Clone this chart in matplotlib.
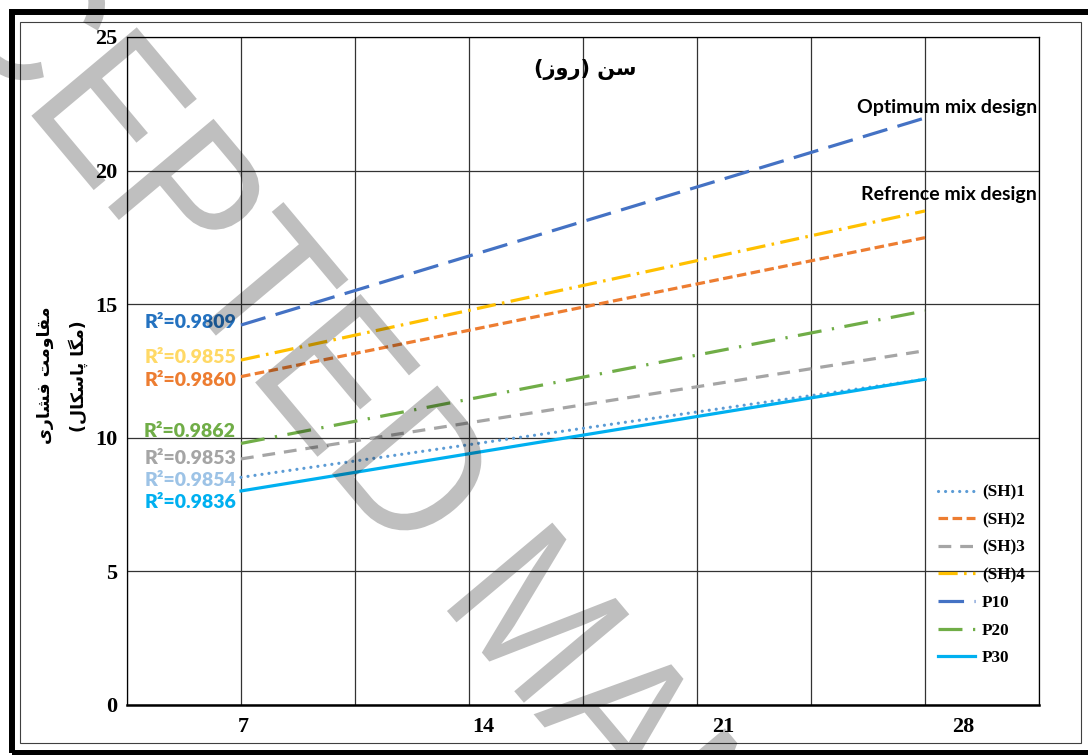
import matplotlib
matplotlib.use("Agg")
import matplotlib.pyplot as plt
from matplotlib.patches import Rectangle, PathPatch
from matplotlib.textpath import TextPath
from matplotlib.font_manager import FontProperties
from matplotlib.transforms import Affine2D

# data (linear trendlines, 7 -> 28 days)
days = [7, 28]
series_names = ["(SH)1", "(SH)2", "(SH)3", "(SH)4", "P10", "P20", "P30"]
start_vals = [8.52, 12.29, 9.21, 12.91, 14.22, 9.79, 8.01]
end_vals = [12.19, 17.49, 13.26, 18.49, 21.97, 14.75, 12.19]
r2_vals = [0.9854, 0.9860, 0.9853, 0.9855, 0.9809, 0.9862, 0.9836]
x_labels = [7, 14, 21, 28]
y_ticks = [0, 5, 10, 15, 20, 25]

colors = ["#5B9BD5", "#ED7D31", "#A5A5A5", "#FFC000", "#4472C4", "#70AD47", "#00B0F0"]
dash_styles = [(0.01, 2.2), (3.0, 1.4), (4.0, 2.8), (6.0, 2.0, 0.8, 2.0),
               (8.0, 3.3), (7.5, 3.3, 0.7, 3.3), None]
r2_colors = ["#9DC3E6", "#ED7D31", "#A5A5A5", "#FFD966", "#2472C0", "#70AD47", "#00B0F0"]
r2_label_y = [8.42, 12.16, 9.21, 12.99, 14.33, 10.22, 7.56]

title_fa = "(\u0632\u0648\u0631) \uFEE6\uFEB3"
ylab_line1 = "\u06CC\u0631\uFE8E\uFEB8\uFED3 \uFE96\uFEE3\u0648\uFE8E\uFED8\uFEE3"
ylab_line2 = "(\u0644\uFE8E\uFB91\uFEB3\uFE8E\uFB58 \uFE8E\uFB95\uFEE3)"

W, H = 1088, 755
fig = plt.figure(figsize=(W / 100, H / 100), dpi=100)
fig.patch.set_facecolor("white")
ax = fig.add_axes([127 / W, 1 - 705 / H, (1039 - 127) / W, (705 - 37) / H])

for i, name in enumerate(series_names):
    kw = dict(color=colors[i], lw=2.3, label=name, zorder=3)
    if dash_styles[i] is not None:
        kw["dashes"] = dash_styles[i]
    if i == 0:
        kw["dash_capstyle"] = "round"
    ax.plot(days, [start_vals[i], end_vals[i]], **kw)

for i, r2 in enumerate(r2_vals):
    ax.text(6.85, r2_label_y[i], "R\u00b2=%.4f" % r2, ha="right", va="center",
            color=r2_colors[i], fontsize=14, fontweight="heavy", family="Lato", zorder=4)

ax.text(31.44, 22.38, "Optimum mix design", ha="right", va="center",
        fontsize=14, fontweight="bold", family="Lato")
ax.text(31.44, 19.09, "Refrence mix design", ha="right", va="center",
        fontsize=14, fontweight="bold", family="Lato")

ax.set_xlim(3.5, 31.5)
ax.set_ylim(0, 25)
ax.set_xticks([3.5 * k for k in range(1, 10)])
ax.set_yticks(y_ticks)
ax.tick_params(axis="x", length=0, labelbottom=False)
ax.tick_params(axis="y", length=0, pad=7)
for lab in ax.get_yticklabels():
    lab.set_fontfamily("Liberation Serif")
    lab.set_fontweight("bold")
    lab.set_fontsize(16)
ax.grid(True, color="#333333", lw=0.9, zorder=1)
ax.set_axisbelow(True)
for s in ax.spines.values():
    s.set_color("black")
    s.set_linewidth(0.9)
ax.spines["bottom"].set_linewidth(1.8)

# category labels under the axis
ax2 = ax.twiny()
ax2.set_xlim(3.62, 30.21)
ax2.set_xticks(x_labels)
ax2.xaxis.set_ticks_position("bottom")
ax2.xaxis.set_label_position("bottom")
ax2.tick_params(axis="x", length=0, pad=9)
for lab in ax2.get_xticklabels():
    lab.set_fontfamily("Liberation Serif")
    lab.set_fontweight("bold")
    lab.set_fontsize(16)
for s in ax2.spines.values():
    s.set_visible(False)

ax.legend(loc="upper left", bbox_to_anchor=(0.889, 0.330), frameon=False,
          prop=FontProperties(family="Liberation Serif", weight="bold", size=12.3),
          handlelength=2.2, handletextpad=0.4, labelspacing=0.68,
          borderpad=0, borderaxespad=0)

fig.text(585 / W, 1 - 70 / H, title_fa, ha="center", va="center",
         fontsize=15, fontweight="bold", family="DejaVu Sans")
fig.text(45 / W, 1 - 375 / H, ylab_line1, rotation=90, ha="center", va="center",
         fontsize=12.5, fontweight="bold", family="DejaVu Sans")
fig.text(78 / W, 1 - 376 / H, ylab_line2, rotation=90, ha="center", va="center",
         fontsize=12.5, fontweight="bold", family="DejaVu Sans")

# frames
fig.add_artist(Rectangle((11.5 / W, 1 - 752.5 / H), (1095 - 11.5) / W, (752.5 - 12) / H,
                         transform=fig.transFigure, fill=False, ec="black", lw=4.3))
fig.add_artist(Rectangle((20 / W, 1 - 743 / H), (1081 - 20) / W, (743 - 22) / H,
                         transform=fig.transFigure, fill=False, ec="#404040", lw=0.8))

# watermark
tp = TextPath((0, 0), "ACCEPTED MANUSCRIPT", size=1, prop=FontProperties(family="Liberation Sans"))
wm_tr = Affine2D().scale(179, 200).rotate_deg(-50).translate(-221, 940)
fig.add_artist(PathPatch(tp, transform=wm_tr, fc=(0, 0, 0, 0.25), ec="none", zorder=10))

fig.savefig("out.png", dpi=100)
